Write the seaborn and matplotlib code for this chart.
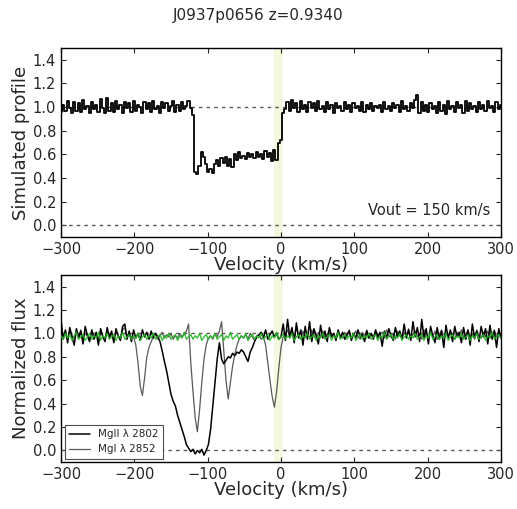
import numpy as np
import matplotlib
matplotlib.use("Agg")
import matplotlib.pyplot as plt
import seaborn as sns

# velocity grid (km/s), 3 km/s bins
velocity = np.arange(-300, 301, 3)

# simulated outflow profile, Vout = 150 km/s
sim_profile = [
    0.96, 1.02, 0.97, 1.05, 0.99, 0.95, 1.04, 0.97, 1.03, 0.96,
    1.06, 0.98, 1.01, 0.95, 1.04, 0.98, 1.02, 0.96, 1.07, 0.99,
    0.95, 1.08, 0.97, 1.03, 0.96, 1.05, 0.98, 1.02, 0.95, 1.04,
    0.99, 1.03, 0.96, 1.05, 0.97, 1.02, 1.00, 0.95, 1.04, 0.98,
    1.03, 0.96, 1.05, 0.98, 1.01, 0.95, 1.04, 0.99, 1.03, 0.97,
    1.01, 1.05, 0.96, 1.02, 0.97, 1.04, 0.98, 1.01, 1.05, 0.99,
    0.93,
    0.45, 0.43, 0.50, 0.62, 0.58, 0.52, 0.45, 0.48, 0.44, 0.52,
    0.55, 0.50, 0.57, 0.53, 0.58, 0.50, 0.56, 0.49, 0.60, 0.55,
    0.62, 0.57, 0.59, 0.56, 0.61, 0.58, 0.60, 0.57, 0.62, 0.58,
    0.60, 0.56, 0.63, 0.58, 0.61, 0.54, 0.64, 0.55, 0.70, 0.72,
    0.95, 0.98, 1.04, 0.97, 1.06, 0.99, 1.03, 0.96, 1.05, 0.98,
    1.02, 0.96, 1.04, 0.99, 1.03, 0.97, 1.05, 0.98, 1.01, 0.96,
    1.04, 0.98, 1.02, 0.95, 1.03, 0.99, 1.01, 0.97, 1.04, 0.98,
    1.02, 0.96, 1.03, 0.99, 1.01, 0.97, 1.04, 0.96, 1.02, 0.98,
    1.03, 0.97, 1.01, 0.99, 1.02, 0.96, 1.04, 0.98, 1.01, 0.97,
    1.03, 0.99, 1.02, 0.96, 1.05, 0.98, 1.01, 0.97, 1.03, 0.99,
    1.06, 1.10, 0.95, 1.04, 0.97, 1.02, 0.96, 1.03, 0.98, 1.01,
    0.95, 1.04, 0.97, 1.02, 0.94, 1.05, 0.98, 1.01, 0.96, 1.04,
    0.99, 1.02, 0.95, 1.05, 0.97, 1.03, 0.98, 1.01, 0.96, 1.04,
    0.98, 1.02, 0.97, 1.05, 0.99, 1.01, 0.96, 1.04, 0.98, 1.02,
]

# observed MgII 2802 (black)
flux_mgii = [
    1.12, 0.95, 1.03, 0.92, 1.05, 0.97, 0.90, 1.04, 0.96, 1.02,
    0.91, 1.06, 0.98, 0.93, 1.03, 0.95, 1.01, 0.90, 1.04, 0.97,
    0.93, 1.05, 0.96, 1.02, 0.92, 1.04, 0.98, 0.94, 1.06, 1.08,
    0.95, 1.02, 0.93, 1.03, 0.96, 1.00, 0.94, 1.03, 0.97, 1.01,
    0.95, 1.02, 0.96, 1.00, 0.97,
    0.93, 0.85, 0.76, 0.68, 0.58, 0.48, 0.42, 0.38, 0.30, 0.24,
    0.18, 0.12, 0.05, 0.02, -0.01, 0.01, -0.03, 0.00, -0.02, 0.01,
    -0.04, 0.00, 0.05, 0.18, 0.38, 0.58, 0.78, 0.92, 0.78, 0.74,
    0.77, 0.80, 0.79, 0.83, 0.81, 0.84, 0.83, 0.86, 0.84, 0.80,
    0.76, 0.84, 0.88, 0.93, 0.97,
    0.99, 1.01, 0.96, 1.03, 0.95, 0.99, 1.02, 0.97, 1.00, 0.95, 0.97,
    1.08, 0.94, 1.12, 0.97, 1.05, 0.92, 1.09, 0.96, 1.03, 0.90,
    1.06, 0.95, 1.10, 0.93, 1.04, 0.98, 0.91, 1.07, 0.96, 1.02,
    0.93, 1.05, 0.97, 1.00, 0.94, 1.03, 0.96, 1.01, 0.95, 0.99,
    1.02, 0.94, 1.00, 0.96, 1.03, 0.97, 0.99, 0.93, 1.02, 0.96,
    1.00, 0.95, 1.03, 0.97, 1.01, 0.89, 1.02, 0.96, 1.04, 0.98,
    0.94, 1.05, 0.97, 1.02, 0.95, 1.08, 0.96, 1.03, 0.94, 1.10,
    0.97, 1.05, 0.93, 1.12, 0.96, 1.04, 0.91, 1.06, 0.98, 0.92,
    1.05, 0.95, 1.02, 0.88, 1.07, 0.96, 1.03, 0.93, 1.06, 0.97,
    1.01, 0.92, 1.05, 0.95, 1.03, 0.90, 1.08, 0.96, 1.02, 0.93,
    1.06, 0.97, 1.04, 0.91, 1.07, 0.95, 1.02, 0.88, 1.04, 0.96,
]

# observed MgI 2852 (grey, narrow components)
flux_mgi = [
    1.02, 0.97, 1.00, 0.95, 1.03, 0.98, 0.96, 1.01, 0.97, 1.03,
    0.95, 1.00, 0.98, 0.96, 1.02, 0.97, 0.99, 0.95, 1.01, 0.98,
    0.96, 1.02, 0.97, 1.00, 0.95, 1.01, 0.98, 0.96, 1.03, 1.05,
    0.97, 1.00, 0.96,
    0.97, 0.90, 0.75, 0.55, 0.47, 0.62, 0.80, 0.88, 0.93,
    0.97, 1.00, 0.95, 0.98, 1.01, 0.96, 0.99, 0.97, 1.00, 0.95,
    0.98, 0.96, 1.00, 0.97, 0.99,
    1.02, 1.08, 0.75, 0.50, 0.28, 0.16, 0.35, 0.58, 0.78, 0.90,
    0.96, 0.98,
    0.95, 1.00,
    0.97, 1.02, 1.10, 0.85, 0.60, 0.44, 0.58, 0.72, 0.82, 0.90,
    0.95, 0.98,
    0.96, 0.99, 0.95, 1.00, 0.97, 0.94, 0.98,
    0.99, 0.95, 0.97, 0.90, 0.75, 0.60, 0.46, 0.37, 0.50, 0.70,
    0.88, 0.97,
    0.99, 1.03, 0.96, 1.01, 0.97, 1.04, 0.98, 0.95, 1.02, 0.97,
    1.00, 0.96, 1.03, 0.98, 0.95, 1.01, 0.97, 1.02, 0.96, 0.99,
    1.03, 0.97, 1.00, 0.95, 1.02, 0.98, 0.96, 1.01, 0.97, 1.03,
    0.96, 0.99, 1.02, 0.97, 0.95, 1.01, 0.98, 1.03, 0.96, 1.00,
    0.97, 1.02, 0.95, 0.99, 1.01, 0.96, 1.03, 0.98, 0.97, 1.00,
    0.95, 1.02, 0.98, 0.96, 1.01, 0.97, 1.04, 0.96, 0.99, 1.02,
    0.97, 1.00, 0.95, 1.03, 0.98, 0.96, 1.01, 0.97, 1.02, 0.95,
    0.99, 1.03, 0.96, 1.00, 0.97, 1.02, 0.98, 0.95, 1.01, 0.97,
    1.03, 0.96, 0.99, 1.02, 0.97, 1.00, 0.95, 1.03, 0.98, 0.96,
    1.01, 0.97, 1.02, 0.96, 0.99, 1.03, 0.97, 1.00, 0.96,
]

# comparison line (green)
flux_green = [
    0.98, 0.95, 1.00, 0.96, 0.99, 0.94, 0.98, 1.01, 0.95, 0.97,
    0.99, 0.94, 0.97, 1.00, 0.95, 0.98, 0.96, 1.01, 0.94, 0.98,
    0.96, 1.00, 0.95, 0.97, 0.99, 0.94, 0.98, 0.96, 1.01, 0.95,
    0.97, 0.99, 0.95, 0.98, 0.96, 1.00, 0.94, 0.97, 0.99, 0.95,
    0.98, 0.96, 1.00, 0.95, 0.97, 0.99, 0.94, 0.98, 0.96, 1.00,
    0.95, 0.97, 0.99, 0.94, 0.98, 0.96, 1.01, 0.95, 0.97, 0.99,
    0.95, 0.98, 0.96, 1.00, 0.94, 0.97, 0.99, 0.95, 0.98, 0.96,
    1.00, 0.95, 0.97, 0.99, 0.94, 0.98, 0.96, 1.01, 0.95, 0.97,
    0.99, 0.95, 0.98, 0.96, 1.00, 0.94, 0.97, 0.99, 0.95, 0.98,
    0.96, 1.00, 0.95, 0.97, 0.99, 0.94, 0.98, 0.96, 1.01, 0.95,
    0.97, 0.99, 0.95, 0.98, 0.96, 1.00, 0.94, 0.97, 0.99, 0.95,
    0.98, 0.96, 1.00, 0.95, 0.97, 0.99, 0.94, 0.98, 0.96, 1.00,
    0.95, 0.97, 0.99, 0.94, 0.98, 0.96, 1.01, 0.95, 0.97, 0.99,
    0.95, 0.98, 0.96, 1.00, 0.94, 0.97, 0.99, 0.95, 0.98, 0.96,
    1.00, 0.95, 0.97, 0.99, 0.94, 0.98, 0.96, 1.01, 0.95, 0.97,
    0.99, 0.95, 0.98, 0.96, 1.00, 0.94, 0.97, 0.99, 0.95, 0.98,
    0.96, 1.00, 0.95, 0.97, 0.99, 0.94, 0.98, 0.96, 1.01, 0.95,
    0.97, 0.99, 0.95, 0.98, 0.96, 1.00, 0.94, 0.97, 0.99, 0.95,
    0.98, 0.96, 1.00, 0.95, 0.97, 0.99, 0.94, 0.98, 0.96, 1.00,
    0.95, 0.97, 0.99, 0.94, 0.98, 0.96, 1.01, 0.95, 0.97, 0.99,
    0.96,
]

title = "J0937p0656 z=0.9340"
vout_label = "Vout = 150 km/s"
xticks = [-300, -200, -100, 0, 100, 200, 300]
yticks = [0.0, 0.2, 0.4, 0.6, 0.8, 1.0, 1.2, 1.4]

sns.set_style("ticks")
plt.rcParams.update({
    "font.family": ["DejaVu Sans"],
    "xtick.direction": "in",
    "ytick.direction": "in",
    "xtick.top": True,
    "ytick.right": True,
    "xtick.labelsize": 10.5,
    "ytick.labelsize": 10.5,
    "axes.labelsize": 13,
    "axes.linewidth": 1.0,
})

fig = plt.figure(figsize=(5.17, 5.09), dpi=100)
ax1 = fig.add_axes([0.118, 0.534, 0.851, 0.372])
ax2 = fig.add_axes([0.118, 0.092, 0.851, 0.368])


def decorate(ax, ylabel):
    ax.axvspan(-10, 3, color="#eef2c4", alpha=0.55, lw=0, zorder=0)
    ax.axhline(1.0, color="0.35", ls=(0, (2.5, 3)), lw=1.0, zorder=1)
    ax.axhline(0.0, color="0.35", ls=(0, (2.5, 3)), lw=1.0, zorder=1)
    ax.set_xlim(-300, 300)
    ax.set_ylim(-0.1, 1.5)
    ax.set_xticks(xticks)
    ax.set_yticks(yticks)
    ax.set_xlabel("Velocity (km/s)", labelpad=-1)
    ax.set_ylabel(ylabel, labelpad=2)
    for s in ax.spines.values():
        s.set_color("black")


# top: simulated profile
sns.lineplot(x=velocity, y=sim_profile, ax=ax1, color="black", lw=1.3,
             drawstyle="steps-mid", estimator=None, sort=False, zorder=3)
decorate(ax1, "Simulated profile")
ax1.text(285, 0.06, vout_label, ha="right", va="bottom", fontsize=10.5)

# bottom: observed normalized flux
sns.lineplot(x=velocity, y=flux_mgi, ax=ax2, color="0.35", lw=0.9,
             estimator=None, sort=False, zorder=2, label="MgI λ 2852")
sns.lineplot(x=velocity, y=flux_mgii, ax=ax2, color="black", lw=1.1,
             estimator=None, sort=False, zorder=3, label="MgII λ 2802")
sns.lineplot(x=velocity, y=flux_green, ax=ax2, color="#22b822", lw=1.0,
             estimator=None, sort=False, zorder=4, alpha=0.9)
decorate(ax2, "Normalized flux")

handles, labels = ax2.get_legend_handles_labels()
leg = ax2.legend(handles[::-1], labels[::-1], loc="lower left", fontsize=7.5,
                 fancybox=False, edgecolor="0.3", framealpha=1,
                 handlelength=2.0, borderaxespad=0.35)
leg.get_frame().set_linewidth(0.8)

fig.suptitle(title, fontsize=11, y=0.985)

fig.savefig("out.png", dpi=100)
